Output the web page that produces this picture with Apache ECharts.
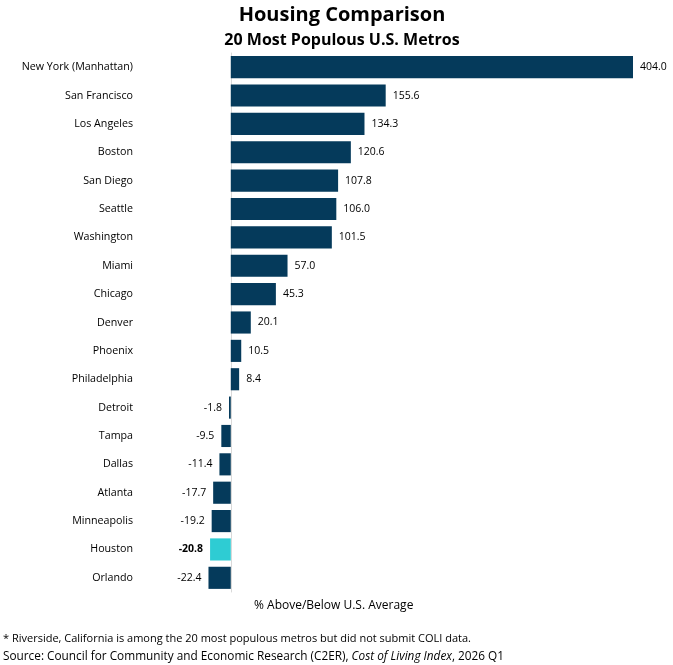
<!DOCTYPE html>
<html>
<head>
<meta charset="utf-8">
<script src="https://cdn.jsdelivr.net/npm/echarts@6/dist/echarts.min.js"></script>
<style>
html, body { margin: 0; padding: 0; background: #fff; }
#main { width: 673px; height: 665px; }
</style>
</head>
<body>
<div id="main"></div>
<script>
const metros = ['New York (Manhattan)', 'San Francisco', 'Los Angeles', 'Boston', 'San Diego', 'Seattle',
  'Washington', 'Miami', 'Chicago', 'Denver', 'Phoenix', 'Philadelphia', 'Detroit', 'Tampa', 'Dallas',
  'Atlanta', 'Minneapolis', 'Houston', 'Orlando']
const housing = [404.0, 155.6, 134.3, 120.6, 107.8, 106.0, 101.5, 57.0, 45.3, 20.1, 10.5, 8.4, -1.8, -9.5,
  -11.4, -17.7, -19.2, -20.8, -22.4]
const highlight = 'Houston'

const navy = '#053A5B'
const cyan = '#2ECCD3'
const font = 'Open Sans'

const seriesData = housing.map((v, i) => {
  const hot = metros[i] === highlight
  return {
    value: v,
    itemStyle: { color: hot ? cyan : navy },
    label: {
      position: v < 0 ? 'left' : 'right',
      fontWeight: hot ? 'bold' : 'normal'
    }
  }
})

const chart = echarts.init(document.getElementById('main'))
chart.setOption({
  animation: false,
  textStyle: { fontFamily: font },
  title: [
    { text: 'Housing Comparison', left: 337, top: 0, textAlign: 'center',
      textStyle: { fontSize: 20, fontWeight: 'bold', color: '#000', fontFamily: font } },
    { text: '20 Most Populous U.S. Metros', left: 337, top: 27, textAlign: 'center',
      textStyle: { fontSize: 16, fontWeight: 'bold', color: '#000', fontFamily: font } }
  ],
  grid: { left: 181, right: 40, top: 53, bottom: 73, containLabel: false },
  xAxis: {
    type: 'value', min: -50, max: 404,
    axisLabel: { show: false }, axisTick: { show: false }, axisLine: { show: false },
    splitLine: { show: false }
  },
  yAxis: {
    type: 'category', data: metros, inverse: true,
    axisTick: { show: false },
    axisLine: { show: true, onZero: true, lineStyle: { color: '#D9D9D9', width: 1 } },
    axisLabel: { color: '#000', fontSize: 10.7, margin: 48, fontFamily: font }
  },
  series: [{
    type: 'bar',
    data: seriesData,
    barCategoryGap: '22%',
    label: { show: true, color: '#000', fontSize: 10.5, distance: 7, fontFamily: font,
      formatter: p => p.value.toFixed(1) }
  }],
  graphic: [
    { type: 'text', left: 254, top: 600,
      style: { text: '% Above/Below U.S. Average', fontSize: 12, fill: '#000', fontFamily: font } },
    { type: 'text', left: 3, top: 633,
      style: { text: '* Riverside, California is among the 20 most populous metros but did not submit COLI data.',
        fontSize: 11, fill: '#000', fontFamily: font } },
    { type: 'text', left: 3, top: 651,
      style: {
        text: '{n|Source: Council for Community and Economic Research (C2ER), }{i|Cost of Living Index}{n|, 2026 Q1}',
        fontSize: 11.8, fill: '#000', fontFamily: font,
        rich: {
          n: { fontSize: 11.8, fontFamily: font, fill: '#000' },
          i: { fontSize: 11.8, fontFamily: font, fontStyle: 'italic', fill: '#000' }
        }
      } }
  ]
})
</script>
</body>
</html>
